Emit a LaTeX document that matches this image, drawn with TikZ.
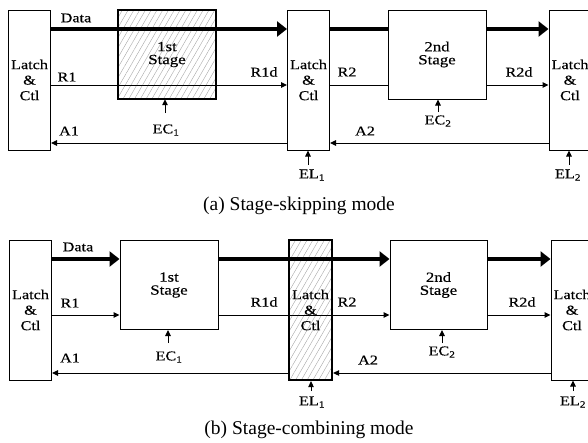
\documentclass[tikz,border=0pt]{standalone}
\usepackage{fontspec}
\setmainfont{Liberation Serif}
\newfontfamily\lblfont{Liberation Serif}[FakeStretch=1.2,FakeBold=0.4]
\usetikzlibrary{arrows.meta,patterns.meta}
\begin{document}
\begin{tikzpicture}[x=1pt,y=-1pt,
  box/.style={draw,line width=1pt,inner sep=0pt},
  latchbox/.style={box,minimum width=42pt,minimum height=140pt,align=center,
    font={\lblfont\fontsize{13.5}{15.5}\selectfont}},
  stagebox/.style={box,minimum width=98pt,minimum height=89pt,align=center,
    font={\lblfont\fontsize{14}{13}\selectfont}},
  hatched/.style={line width=2.2pt,pattern={Lines[angle=60,distance=5pt,line width=0.4pt]},pattern color=gray!70},
  lbl/.style={inner sep=0pt,font={\lblfont\fontsize{13.5}{15}\selectfont}},
  captext/.style={inner sep=0pt,font={\fontsize{19.5}{22}\selectfont}},
  dataline/.style={line width=4.5pt},
  dataarrow/.style={dataline,-{Triangle[length=10pt,width=15pt]}},
  sig/.style={line width=1pt},
  sigarrow/.style={sig,-{Triangle[length=6pt,width=5.5pt]}}
]
\useasboundingbox (0,0) rectangle (588,442);

% ---------- (a) stage-skipping ----------
\node[latchbox] (L0a) at (29.5,80) {Latch\\\&\\Ctl};
\node[latchbox] (L1a) at (308.5,80) {Latch\\\&\\Ctl};
\node[latchbox] (L2a) at (570,80) {Latch\\\&\\Ctl};
\node[stagebox,hatched] (S1a) at (167,54.5) {1st\\Stage};
\node[stagebox] (S2a) at (437,54.5) {2nd\\Stage};

\coordinate (dA) at (0,29);
\coordinate (rA) at (0,85);
\coordinate (aA) at (0,143);

\draw[dataarrow] (L0a.east |- dA) -- (L1a.west |- dA);
\draw[dataline] (L1a.east |- dA) -- (S2a.west |- dA);
\draw[dataarrow] (S2a.east |- dA) -- (L2a.west |- dA);
\draw[sigarrow] (L0a.east |- rA) -- (L1a.west |- rA);
\draw[sig] (L1a.east |- rA) -- (S2a.west |- rA);
\draw[sigarrow] (S2a.east |- rA) -- (L2a.west |- rA);
\draw[sigarrow] (L1a.west |- aA) -- (L0a.east |- aA);
\draw[sigarrow] (L2a.west |- aA) -- (L1a.east |- aA);

\node[lbl] (dataa) at (76,18) {Data};
\node[lbl] (r1a) at (67,77) {R1};
\node[lbl] (r1da) at (264,72) {R1d};
\node[lbl] (a1a) at (69,131) {A1};
\node[lbl] (r2a) at (347,72) {R2};
\node[lbl] (r2da) at (519,72) {R2d};
\node[lbl] (a2a) at (365,131) {A2};

\node[lbl] (ec1a) at (166,130) {EC\textsubscript{1}};
\coordinate (ec1at) at (165,113);
\draw[sigarrow] (ec1at) -- (ec1at |- S1a.south);
\node[lbl] (ec2a) at (438,121) {EC\textsubscript{2}};
\coordinate (ec2at) at (438,112);
\draw[sigarrow] (ec2at) -- (ec2at |- S2a.south);
\node[lbl] (el1a) at (312,175) {EL\textsubscript{1}};
\coordinate (el1at) at (308,165);
\draw[sigarrow] (el1at) -- (el1at |- L1a.south);
\node[lbl] (el2a) at (568,175) {EL\textsubscript{2}};
\coordinate (el2at) at (569,165);
\draw[sigarrow] (el2at) -- (el2at |- L2a.south);

\node[captext] (capa) at (299,206) {(a) Stage-skipping mode};

% ---------- (b) stage-combining ----------
\node[latchbox] (L0b) at (30.5,310) {Latch\\\&\\Ctl};
\node[latchbox,hatched,minimum width=43pt] (L1b) at (310.5,310) {Latch\\\&\\Ctl};
\node[latchbox] (L2b) at (572,310) {Latch\\\&\\Ctl};
\node[stagebox] (S1b) at (169,285) {1st\\Stage};
\node[stagebox,minimum width=97pt] (S2b) at (438.5,285) {2nd\\Stage};

\coordinate (dB) at (0,259);
\coordinate (rB) at (0,315);
\coordinate (aB) at (0,373);

\draw[dataarrow] (L0b.east |- dB) -- (S1b.west |- dB);
\draw[dataarrow] (S1b.east |- dB) -- (S2b.west |- dB);
\draw[dataarrow] (S2b.east |- dB) -- (L2b.west |- dB);
\draw[sigarrow] (L0b.east |- rB) -- (S1b.west |- rB);
\draw[sigarrow] (S1b.east |- rB) -- (S2b.west |- rB);
\draw[sigarrow] (S2b.east |- rB) -- (L2b.west |- rB);
\draw[sigarrow] (L1b.west |- aB) -- (L0b.east |- aB);
\draw[sigarrow] (L2b.west |- aB) -- (L1b.east |- aB);

\node[lbl] (datab) at (78,247) {Data};
\node[lbl] (r1b) at (70,303) {R1};
\node[lbl] (r1db) at (264,302) {R1d};
\node[lbl] (a1b) at (70,358) {A1};
\node[lbl] (r2b) at (347,302) {R2};
\node[lbl] (r2db) at (522,302) {R2d};
\node[lbl] (a2b) at (368,360) {A2};

\node[lbl] (ec1b) at (169,357) {EC\textsubscript{1}};
\coordinate (ec1bt) at (168,343);
\draw[sigarrow] (ec1bt) -- (ec1bt |- S1b.south);
\node[lbl] (ec2b) at (442,352) {EC\textsubscript{2}};
\coordinate (ec2bt) at (442,343);
\draw[sigarrow] (ec2bt) -- (ec2bt |- S2b.south);
\node[lbl] (el1b) at (312,402) {EL\textsubscript{1}};
\coordinate (el1bt) at (311,391);
\draw[sigarrow] (el1bt) -- (el1bt |- L1b.south);
\node[lbl] (el2b) at (573,402) {EL\textsubscript{2}};
\coordinate (el2bt) at (573,391);
\draw[sigarrow] (el2bt) -- (el2bt |- L2b.south);

\node[captext] (capb) at (309,430) {(b) Stage-combining mode};
\end{tikzpicture}
\end{document}
